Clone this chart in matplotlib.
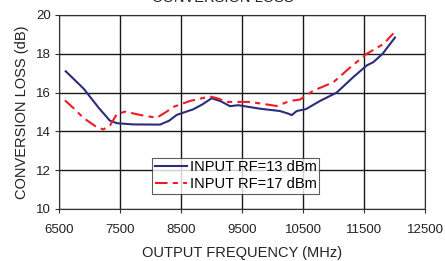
import matplotlib
matplotlib.use("Agg")
import matplotlib.pyplot as plt

plt.rcParams['font.family'] = ['Liberation Sans', 'DejaVu Sans']

freq13 = [6605, 6900, 7150, 7330, 7450, 7713, 8150, 8300, 8425, 8697, 8850, 8998, 9150, 9298, 9434, 9790, 10118, 10250, 10310, 10392, 10544, 10774, 11047, 11320, 11540, 11648, 11800, 12003]
loss13 = [17.1, 16.2, 15.2, 14.55, 14.42, 14.36, 14.35, 14.55, 14.85, 15.14, 15.4, 15.71, 15.55, 15.3, 15.35, 15.17, 15.05, 14.92, 14.84, 15.05, 15.15, 15.57, 16.0, 16.8, 17.4, 17.57, 18.0, 18.84]

freq17 = [6593, 6750, 6893, 7100, 7221, 7330, 7441, 7577, 7823, 8097, 8250, 8370, 8643, 8970, 9100, 9244, 9626, 10064, 10282, 10446, 10664, 10992, 11269, 11540, 11812, 11976]
loss17 = [15.6, 15.15, 14.7, 14.25, 14.1, 14.3, 14.88, 15.02, 14.85, 14.7, 15.0, 15.26, 15.57, 15.8, 15.7, 15.52, 15.52, 15.31, 15.57, 15.64, 16.1, 16.53, 17.3, 18.0, 18.5, 19.05]

xticks = [6500, 7500, 8500, 9500, 10500, 11500, 12500]
yticks = [10, 12, 14, 16, 18, 20]

fig = plt.figure(figsize=(4.45, 2.61), dpi=100)
ax = fig.add_axes([59.3/445, 1-209/261, (425.3-59.3)/445, (209-15)/261])

ax.plot(freq13, loss13, color='#2b2d7c', lw=1.5, label='INPUT RF=13 dBm')
ax.plot(freq17, loss17, color='#ee1c25', lw=1.5, dashes=(6, 2.5, 2.5, 2.5), label='INPUT RF=17 dBm')

ax.set_xlim(6500, 12500)
ax.set_ylim(10, 20)
ax.set_xticks(xticks)
ax.set_yticks(yticks)
ax.set_xticklabels([str(t) for t in xticks])
ax.grid(True, color='#1a1a1a', lw=1.0)
ax.set_axisbelow(True)
for s in ax.spines.values():
    s.set_color('#333333')
    s.set_linewidth(0.8)
ax.tick_params(labelsize=9.5, length=3, color='#333333', labelcolor='#222222')
ax.tick_params(axis='x', pad=8)
ax.tick_params(axis='y', pad=3)
ax.set_xlabel('OUTPUT FREQUENCY (MHz)', fontsize=10.5, color='#222222', labelpad=7)
ax.set_ylabel('CONVERSION LOSS (dB)', fontsize=10.5, color='#222222', labelpad=5)

leg = ax.legend(loc='lower left', bbox_to_anchor=((151.7-59.3)/366, (209-194.3)/194, (319.3-151.7)/366, (194.3-153.3)/194),
                mode='expand', fontsize=10.5, frameon=True, fancybox=False, handlelength=2.2,
                handletextpad=0.2, borderpad=0.2, labelspacing=0.2, borderaxespad=0)
leg.get_frame().set_edgecolor('#333333')
leg.get_frame().set_linewidth(0.8)

fig.text(0.5, 1-2/261, 'CONVERSION LOSS', ha='center', va='baseline', fontsize=10.5, color='#222222')

fig.savefig('out.png', dpi=100)
